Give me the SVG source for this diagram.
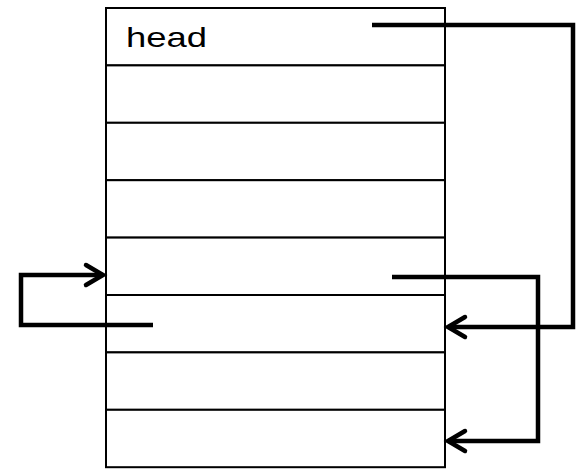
<svg xmlns="http://www.w3.org/2000/svg" width="583" height="470" viewBox="0 0 583 470">
  <defs>
    <style>
      .cell { fill: #ffffff; stroke: #000000; stroke-width: 2; }
      .label { font-family: "Liberation Sans", "DejaVu Sans", sans-serif; font-size: 28px; fill: #000000; }
      .link { fill: none; stroke: #000000; stroke-width: 4.5; stroke-linejoin: miter; stroke-linecap: butt; }
      .tip { fill: none; stroke: #000000; stroke-width: 4.5; stroke-linecap: round; stroke-linejoin: miter; }
    </style>
  </defs>
  <rect width="583" height="470" fill="#ffffff"/>

  <!-- list cells -->
  <g id="cell-0"><rect class="cell" x="106" y="8" width="339" height="57.4"/><text class="label" x="126" y="47" textLength="81" lengthAdjust="spacingAndGlyphs">head</text></g>
  <g id="cell-1"><rect class="cell" x="106" y="65.4" width="339" height="57.4"/></g>
  <g id="cell-2"><rect class="cell" x="106" y="122.8" width="339" height="57.4"/></g>
  <g id="cell-3"><rect class="cell" x="106" y="180.2" width="339" height="57.4"/></g>
  <g id="cell-4"><rect class="cell" x="106" y="237.6" width="339" height="57.4"/></g>
  <g id="cell-5"><rect class="cell" x="106" y="295" width="339" height="57.4"/></g>
  <g id="cell-6"><rect class="cell" x="106" y="352.4" width="339" height="57.4"/></g>
  <g id="cell-7"><rect class="cell" x="106" y="409.8" width="339" height="57.4"/></g>

  <!-- pointers -->
  <g id="connectors">
    <!-- head -> cell 5 -->
    <polyline class="link" points="372,25 573,25 573,327 448,327"/>
    <polyline class="tip" points="465,317 448,327 465,337"/>
    <!-- cell 4 -> cell 7 -->
    <polyline class="link" points="392,277 538,277 538,441 448,441"/>
    <polyline class="tip" points="465,431 448,441 465,451"/>
    <!-- cell 5 -> cell 4 -->
    <polyline class="link" points="153,325 21,325 21,275 103,275"/>
    <polyline class="tip" points="86,265 103,275 86,285"/>
  </g>
</svg>
